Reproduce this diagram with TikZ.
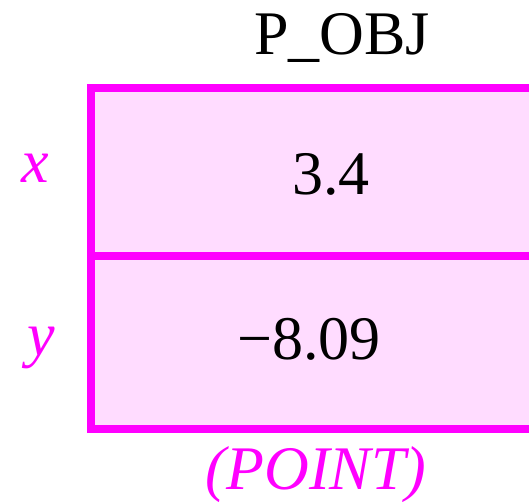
\documentclass[tikz,border=0pt]{standalone}
\usepackage{fontspec}
\setmainfont{Liberation Serif}
\usepackage{tikz}
\usetikzlibrary{positioning}
\definecolor{objpink}{HTML}{FF00FF}
\definecolor{objfill}{HTML}{FFDCFF}
\tikzset{
  frame/.style={draw=objpink, fill=objfill, line width=8pt},
  val/.style={anchor=base, inner sep=0pt, font=\fontsize{62}{70}\selectfont},
  fld/.style={anchor=base, inner sep=0pt, text=objpink, font=\fontsize{62}{70}\selectfont\itshape}
}
\begin{document}
\begin{tikzpicture}[x=1pt,y=1pt]
  \useasboundingbox (0,0) rectangle (529,502);
  \clip (0,0) rectangle (529,502);
  % record box, right side runs off the page
  \draw[frame] (91,73) rectangle (560,414);
  \draw[draw=objpink, line width=8pt] (91,246) -- (560,246);
  \node[val] (name) at (342,447) {P\_OBJ};
  \node[val] (xval) at (331,307) {3.4};
  \node[val] (yval) at (309,142) {\symbol{"2212}8.09};
  \node[fld] (xlab) at (35,319) {x};
  \node[fld] (ylab) at (41,146) {y};
  \node[fld] (type) at (316,12) {(POINT)};
\end{tikzpicture}
\end{document}
